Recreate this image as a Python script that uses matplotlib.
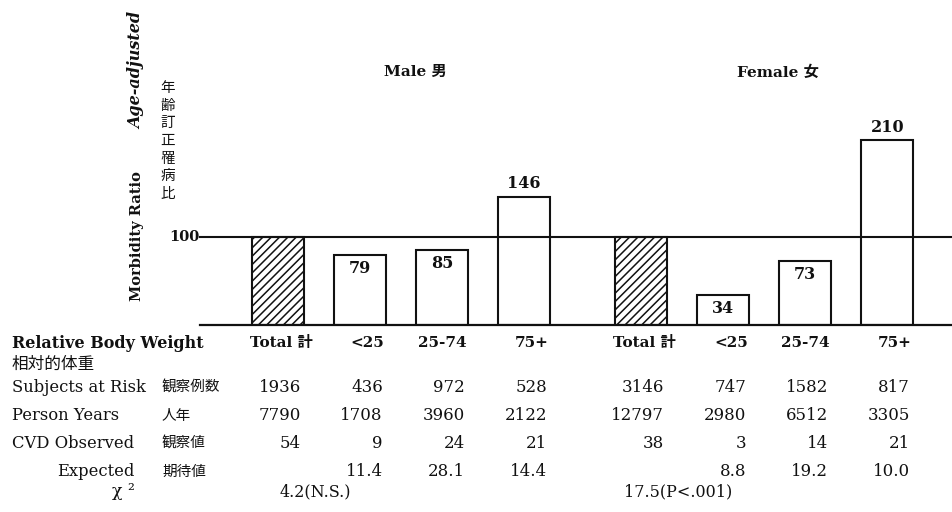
import numpy as np
import matplotlib.pyplot as plt
from matplotlib.transforms import blended_transform_factory

plt.rcParams['font.family'] = ['DejaVu Serif', 'Noto Sans CJK JP']
plt.rcParams['hatch.linewidth'] = 1.1

# age-adjusted morbidity ratio by relative body weight
groups = ['Male 男', 'Female 女']
weight_cats = ['Total 計', '<25', '25-74', '75+']
male_ratio = [100, 79, 85, 146]
female_ratio = [100, 34, 73, 210]

male_subjects = [1936, 436, 972, 528]
female_subjects = [3146, 747, 1582, 817]
male_person_years = [7790, 1708, 3960, 2122]
female_person_years = [12797, 2980, 6512, 3305]
male_observed = [54, 9, 24, 21]
female_observed = [38, 3, 14, 21]
male_expected = [None, 11.4, 28.1, 14.4]
female_expected = [None, 8.8, 19.2, 10.0]
chi_square = ['4.2(N.S.)', '17.5(P<.001)']

row_labels = ['Subjects at Risk', 'Person Years', 'CVD Observed', 'Expected']
row_labels_jp = ['観察例数', '人年', '観察値', '期待値']

W, H = 952, 512
fig = plt.figure(figsize=(W / 100, H / 100), dpi=100)
fig.patch.set_facecolor('white')

# axes spans from the "100" tick to the right edge, bottom at the zero line
ax = fig.add_axes([200 / W, (H - 325) / H, 752 / W, 305 / H])
ax.set_xlim(-0.951, 8.22)
ax.set_ylim(0, 346.6)
ax.axis('off')

bar_w = 0.63
male_x = np.arange(4)
female_x = np.arange(4) + 4.43
ink = '#111111'

for xs, vals in [(male_x, male_ratio), (female_x, female_ratio)]:
    hatches = ['////', '', '', '']
    for x, v, h in zip(xs, vals, hatches):
        ax.bar(x, v, width=bar_w, color='white', edgecolor=ink, linewidth=1.5,
               hatch=h, zorder=2)
    for x, v in zip(xs[1:], vals[1:]):
        if v < 100:
            ax.annotate(str(v), (x, v), xytext=(0, -3.5), textcoords='offset points',
                        ha='center', va='top', fontsize=11.5, fontweight='bold', color=ink)
        else:
            ax.annotate(str(v), (x, v), xytext=(0, 3), textcoords='offset points',
                        ha='center', va='bottom', fontsize=11.5, fontweight='bold', color=ink)

ax.axhline(100, color=ink, lw=1.5, zorder=3, clip_on=False)
ax.axhline(0, color=ink, lw=1.6, zorder=3, clip_on=False)
ax.text(-0.96, 100, '100', ha='right', va='center', fontsize=10.5,
        fontweight='bold', color=ink)

ax.text(1.67, 287, groups[0], ha='center', va='center', fontsize=11,
        fontweight='bold', color=ink)
ax.text(6.1, 287, groups[1], ha='center', va='center', fontsize=11,
        fontweight='bold', color=ink)

# y axis title
fig.text(137 / W, 1 - 236 / H, 'Morbidity Ratio', rotation=90, ha='center',
         va='center', fontsize=10.5, fontweight='bold', color=ink)
fig.text(137 / W, 1 - 70 / H, 'Age-adjusted', rotation=90, ha='center',
         va='center', fontsize=11.5, fontweight='bold', style='italic', color=ink)
fig.text(168 / W, 1 - 141 / H, '\n'.join('年齢訂正罹病比'), ha='center', va='center',
         fontsize=10.5, family='Noto Sans CJK JP', linespacing=1.32, color=ink)

# table under the bars
tr = blended_transform_factory(ax.transData, fig.transFigure)
row_y = [1 - y / H for y in [387, 416, 443, 472]]
head_y = 1 - 343 / H

fig.text(12 / W, head_y, 'Relative Body Weight', ha='left', va='center',
         fontsize=11.5, fontweight='bold', color=ink)
fig.text(12 / W, 1 - 364 / H, '相対的体重', ha='left', va='center',
         fontsize=12, family='Noto Sans CJK JP', color=ink)

for i, (lab, jp) in enumerate(zip(row_labels, row_labels_jp)):
    if lab == 'Expected':
        fig.text(135 / W, row_y[i], lab, ha='right', va='center', fontsize=11.8, color=ink)
    else:
        fig.text(12 / W, row_y[i], lab, ha='left', va='center', fontsize=11.8, color=ink)
    fig.text(162 / W, row_y[i], jp, ha='left', va='center', fontsize=10.5,
             family='Noto Sans CJK JP', color=ink)
fig.text(135 / W, 1 - 492 / H, 'χ ²', ha='right', va='center', fontsize=12.5, color=ink)

tables = [
    (male_x, male_subjects, male_person_years, male_observed, male_expected, chi_square[0]),
    (female_x, female_subjects, female_person_years, female_observed, female_expected, chi_square[1]),
]
for xs, subj, py, obs, exp, chi in tables:
    for j, cat in enumerate(weight_cats):
        if j == 0:
            ax.text(xs[j] - 0.34, head_y, cat, transform=tr, ha='left', va='center',
                    fontsize=11, fontweight='bold', color=ink)
        else:
            ax.text(xs[j] + 0.3, head_y, cat, transform=tr, ha='right', va='center',
                    fontsize=11, fontweight='bold', color=ink)
        cells = [subj[j], py[j], obs[j], exp[j]]
        for k, c in enumerate(cells):
            if c is None:
                continue
            txt = f'{c:.1f}' if isinstance(c, float) else str(c)
            ax.text(xs[j] + 0.28, row_y[k], txt, transform=tr, ha='right',
                    va='center', fontsize=12, color=ink)
    ax.text(xs[0] + 0.45, 1 - 492 / H, chi, transform=tr, ha='center', va='center',
            fontsize=11.5, color=ink)

fig.savefig('out.png', dpi=100, facecolor='white')
